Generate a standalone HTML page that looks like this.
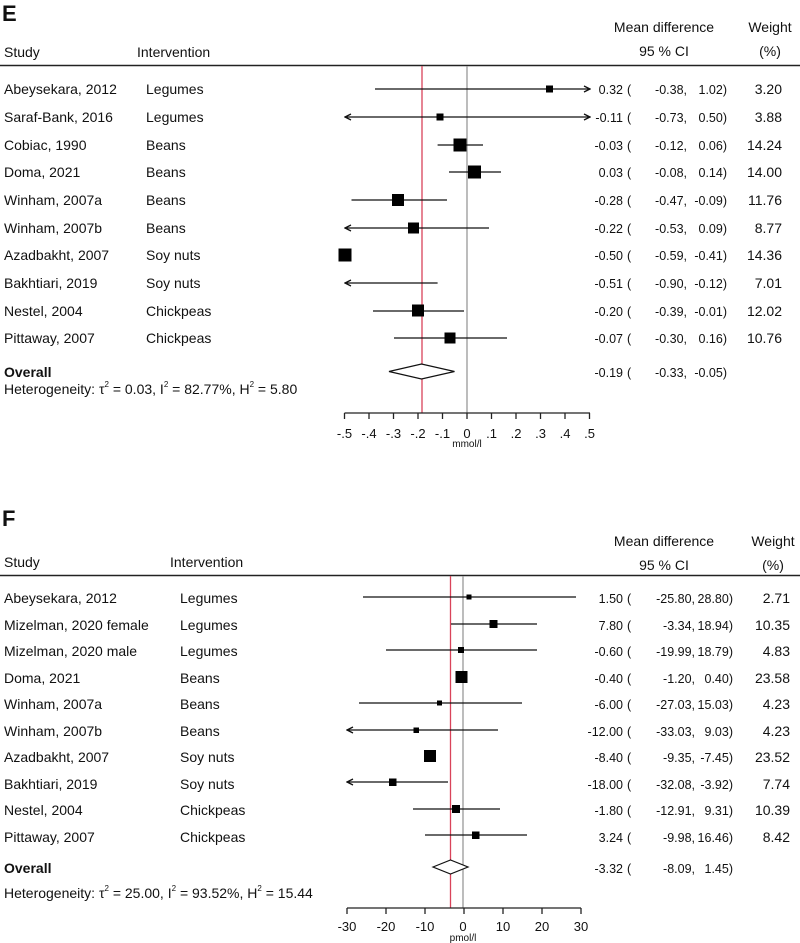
<!DOCTYPE html>
<html><head><meta charset="utf-8"><style>
body{margin:0;background:#fff}
svg{display:block;font-family:"Liberation Sans",sans-serif;font-size:14px;fill:#111}
.b{font-weight:bold}
.ax{font-size:13px}
.u{font-size:10px}
.n{font-size:12.5px}
</style></head><body>
<svg width="800" height="943" viewBox="0 0 800 943" xmlns="http://www.w3.org/2000/svg">
<defs><marker id="ar" markerWidth="8" markerHeight="8" refX="7" refY="4" orient="auto-start-reverse" markerUnits="userSpaceOnUse"><path d="M1,1 L7,4 L1,7" fill="none" stroke="#111" stroke-width="1.3"/></marker></defs>
<!-- PANEL E -->
<text x="2" y="21" class="b" style="font-size:22px">E</text>
<text x="664" y="32" text-anchor="middle">Mean difference</text>
<text x="664" y="56" text-anchor="middle">95 % CI</text>
<text x="770" y="32" text-anchor="middle">Weight</text>
<text x="770" y="56" text-anchor="middle">(%)</text>
<text x="4" y="57">Study</text><text x="137" y="57">Intervention</text>
<line x1="0" y1="65.5" x2="800" y2="65.5" stroke="#222" stroke-width="1.5"/>
<line x1="467" y1="66" x2="467" y2="413" stroke="#999" stroke-width="1.3"/>
<line x1="422" y1="66" x2="422" y2="413" stroke="#d9435a" stroke-width="1.3"/>
<g>
<text x="4" y="94">Abeysekara, 2012</text><text x="146" y="94">Legumes</text>
<text x="4" y="122">Saraf-Bank, 2016</text><text x="146" y="122">Legumes</text>
<text x="4" y="150">Cobiac, 1990</text><text x="146" y="150">Beans</text>
<text x="4" y="177">Doma, 2021</text><text x="146" y="177">Beans</text>
<text x="4" y="205">Winham, 2007a</text><text x="146" y="205">Beans</text>
<text x="4" y="233">Winham, 2007b</text><text x="146" y="233">Beans</text>
<text x="4" y="260">Azadbakht, 2007</text><text x="146" y="260">Soy nuts</text>
<text x="4" y="288">Bakhtiari, 2019</text><text x="146" y="288">Soy nuts</text>
<text x="4" y="316">Nestel, 2004</text><text x="146" y="316">Chickpeas</text>
<text x="4" y="343">Pittaway, 2007</text><text x="146" y="343">Chickpeas</text>
<text x="4" y="377" class="b">Overall</text>
<text x="4" y="394">Heterogeneity: τ<tspan dy="-7" style="font-size:8px">2</tspan><tspan dy="7"> = 0.03, I</tspan><tspan dy="-7" style="font-size:8px">2</tspan><tspan dy="7"> = 82.77%, H</tspan><tspan dy="-7" style="font-size:8px">2</tspan><tspan dy="7"> = 5.80</tspan></text>
</g>
<g text-anchor="end" class="n">
<text x="623" y="94">0.32</text><text x="623" y="122">-0.11</text><text x="623" y="150">-0.03</text><text x="623" y="177">0.03</text><text x="623" y="205">-0.28</text><text x="623" y="233">-0.22</text><text x="623" y="260">-0.50</text><text x="623" y="288">-0.51</text><text x="623" y="316">-0.20</text><text x="623" y="343">-0.07</text><text x="623" y="377">-0.19</text>
<text x="687" y="94">-0.38,</text><text x="687" y="122">-0.73,</text><text x="687" y="150">-0.12,</text><text x="687" y="177">-0.08,</text><text x="687" y="205">-0.47,</text><text x="687" y="233">-0.53,</text><text x="687" y="260">-0.59,</text><text x="687" y="288">-0.90,</text><text x="687" y="316">-0.39,</text><text x="687" y="343">-0.30,</text><text x="687" y="377">-0.33,</text>
<text x="727" y="94">1.02)</text><text x="727" y="122">0.50)</text><text x="727" y="150">0.06)</text><text x="727" y="177">0.14)</text><text x="727" y="205">-0.09)</text><text x="727" y="233">0.09)</text><text x="727" y="260">-0.41)</text><text x="727" y="288">-0.12)</text><text x="727" y="316">-0.01)</text><text x="727" y="343">0.16)</text><text x="727" y="377">-0.05)</text>
</g>
<g text-anchor="end">
<text x="782" y="94">3.20</text><text x="782" y="122">3.88</text><text x="782" y="150">14.24</text><text x="782" y="177">14.00</text><text x="782" y="205">11.76</text><text x="782" y="233">8.77</text><text x="782" y="260">14.36</text><text x="782" y="288">7.01</text><text x="782" y="316">12.02</text><text x="782" y="343">10.76</text>
</g>
<g class="n">
<text x="627" y="94">(</text><text x="627" y="122">(</text><text x="627" y="150">(</text><text x="627" y="177">(</text><text x="627" y="205">(</text><text x="627" y="233">(</text><text x="627" y="260">(</text><text x="627" y="288">(</text><text x="627" y="316">(</text><text x="627" y="343">(</text><text x="627" y="377">(</text>
</g>
<g stroke="#111" stroke-width="1.3">
<line x1="375" y1="89" x2="590" y2="89" marker-end="url(#ar)"/>
<line x1="345" y1="117" x2="590" y2="117" marker-end="url(#ar)" marker-start="url(#ar)"/>
<line x1="437.6" y1="145" x2="483" y2="145"/>
<line x1="449" y1="172" x2="501" y2="172"/>
<line x1="351.5" y1="200" x2="447" y2="200"/>
<line x1="345" y1="228" x2="489" y2="228" marker-start="url(#ar)"/>
<line x1="345" y1="283" x2="437.6" y2="283" marker-start="url(#ar)"/>
<line x1="373" y1="311" x2="464" y2="311"/>
<line x1="394" y1="338" x2="507" y2="338"/>
</g>
<g fill="#000">
<rect x="546" y="85.5" width="7" height="7"/>
<rect x="436.5" y="113.5" width="7" height="7"/>
<rect x="453.5" y="138.5" width="13" height="13"/>
<rect x="468" y="165.5" width="13" height="13"/>
<rect x="392" y="194" width="12" height="12"/>
<rect x="408" y="222.5" width="11" height="11"/>
<rect x="338.5" y="248.5" width="13" height="13"/>
<rect x="412" y="304.5" width="12" height="12"/>
<rect x="444.5" y="332.5" width="11" height="11"/>
</g>
<polygon points="389,371.5 421.5,364 454.5,371.5 421.5,379" fill="#fff" stroke="#111" stroke-width="1.2"/>
<g stroke="#222" stroke-width="1.3">
<line x1="344.5" y1="413" x2="590" y2="413"/>
<line x1="344.5" y1="413" x2="344.5" y2="419"/><line x1="369" y1="413" x2="369" y2="419"/><line x1="393.5" y1="413" x2="393.5" y2="419"/><line x1="418" y1="413" x2="418" y2="419"/><line x1="442.5" y1="413" x2="442.5" y2="419"/><line x1="467" y1="413" x2="467" y2="419"/><line x1="491.5" y1="413" x2="491.5" y2="419"/><line x1="516" y1="413" x2="516" y2="419"/><line x1="540.5" y1="413" x2="540.5" y2="419"/><line x1="565" y1="413" x2="565" y2="419"/><line x1="589.5" y1="413" x2="589.5" y2="419"/>
</g>
<g class="ax" text-anchor="middle">
<text x="344.5" y="438">-.5</text><text x="369" y="438">-.4</text><text x="393.5" y="438">-.3</text><text x="418" y="438">-.2</text><text x="442.5" y="438">-.1</text><text x="467" y="438">0</text><text x="491.5" y="438">.1</text><text x="516" y="438">.2</text><text x="540.5" y="438">.3</text><text x="565" y="438">.4</text><text x="589.5" y="438">.5</text>
<text x="467" y="447" class="u">mmol/l</text>
</g>

<!-- PANEL F -->
<text x="2" y="526" class="b" style="font-size:22px">F</text>
<text x="664" y="546" text-anchor="middle">Mean difference</text>
<text x="664" y="570" text-anchor="middle">95 % CI</text>
<text x="773" y="546" text-anchor="middle">Weight</text>
<text x="773" y="570" text-anchor="middle">(%)</text>
<text x="4" y="567">Study</text><text x="170" y="567">Intervention</text>
<line x1="0" y1="575.5" x2="800" y2="575.5" stroke="#222" stroke-width="1.5"/>
<line x1="463" y1="576" x2="463" y2="908" stroke="#999" stroke-width="1.3"/>
<line x1="450.5" y1="576" x2="450.5" y2="908" stroke="#d9435a" stroke-width="1.3"/>
<g>
<text x="4" y="603">Abeysekara, 2012</text><text x="180" y="603">Legumes</text>
<text x="4" y="630">Mizelman, 2020 female</text><text x="180" y="630">Legumes</text>
<text x="4" y="656">Mizelman, 2020 male</text><text x="180" y="656">Legumes</text>
<text x="4" y="683">Doma, 2021</text><text x="180" y="683">Beans</text>
<text x="4" y="709">Winham, 2007a</text><text x="180" y="709">Beans</text>
<text x="4" y="736">Winham, 2007b</text><text x="180" y="736">Beans</text>
<text x="4" y="762">Azadbakht, 2007</text><text x="180" y="762">Soy nuts</text>
<text x="4" y="789">Bakhtiari, 2019</text><text x="180" y="789">Soy nuts</text>
<text x="4" y="815">Nestel, 2004</text><text x="180" y="815">Chickpeas</text>
<text x="4" y="842">Pittaway, 2007</text><text x="180" y="842">Chickpeas</text>
<text x="4" y="873" class="b">Overall</text>
<text x="4" y="898">Heterogeneity: τ<tspan dy="-7" style="font-size:8px">2</tspan><tspan dy="7"> = 25.00, I</tspan><tspan dy="-7" style="font-size:8px">2</tspan><tspan dy="7"> = 93.52%, H</tspan><tspan dy="-7" style="font-size:8px">2</tspan><tspan dy="7"> = 15.44</tspan></text>
</g>
<g text-anchor="end" class="n">
<text x="623" y="603">1.50</text><text x="623" y="630">7.80</text><text x="623" y="656">-0.60</text><text x="623" y="683">-0.40</text><text x="623" y="709">-6.00</text><text x="623" y="736">-12.00</text><text x="623" y="762">-8.40</text><text x="623" y="789">-18.00</text><text x="623" y="815">-1.80</text><text x="623" y="842">3.24</text><text x="623" y="873">-3.32</text>
<text x="695" y="603">-25.80,</text><text x="695" y="630">-3.34,</text><text x="695" y="656">-19.99,</text><text x="695" y="683">-1.20,</text><text x="695" y="709">-27.03,</text><text x="695" y="736">-33.03,</text><text x="695" y="762">-9.35,</text><text x="695" y="789">-32.08,</text><text x="695" y="815">-12.91,</text><text x="695" y="842">-9.98,</text><text x="695" y="873">-8.09,</text>
<text x="733" y="603">28.80)</text><text x="733" y="630">18.94)</text><text x="733" y="656">18.79)</text><text x="733" y="683">0.40)</text><text x="733" y="709">15.03)</text><text x="733" y="736">9.03)</text><text x="733" y="762">-7.45)</text><text x="733" y="789">-3.92)</text><text x="733" y="815">9.31)</text><text x="733" y="842">16.46)</text><text x="733" y="873">1.45)</text>
</g>
<g text-anchor="end">
<text x="790" y="603">2.71</text><text x="790" y="630">10.35</text><text x="790" y="656">4.83</text><text x="790" y="683">23.58</text><text x="790" y="709">4.23</text><text x="790" y="736">4.23</text><text x="790" y="762">23.52</text><text x="790" y="789">7.74</text><text x="790" y="815">10.39</text><text x="790" y="842">8.42</text>
</g>
<g class="n">
<text x="627" y="603">(</text><text x="627" y="630">(</text><text x="627" y="656">(</text><text x="627" y="683">(</text><text x="627" y="709">(</text><text x="627" y="736">(</text><text x="627" y="762">(</text><text x="627" y="789">(</text><text x="627" y="815">(</text><text x="627" y="842">(</text><text x="627" y="873">(</text>
</g>
<g stroke="#111" stroke-width="1.3">
<line x1="363" y1="597" x2="576" y2="597"/>
<line x1="451" y1="624" x2="537" y2="624"/>
<line x1="386" y1="650" x2="537" y2="650"/>
<line x1="359" y1="703" x2="522" y2="703"/>
<line x1="347" y1="730" x2="498" y2="730" marker-start="url(#ar)"/>
<line x1="347" y1="782" x2="448" y2="782" marker-start="url(#ar)"/>
<line x1="413" y1="809" x2="500" y2="809"/>
<line x1="425" y1="835" x2="527" y2="835"/>
</g>
<g fill="#000">
<rect x="466.5" y="594.5" width="5" height="5"/>
<rect x="489.5" y="620" width="8" height="8"/>
<rect x="458" y="647" width="6" height="6"/>
<rect x="455.5" y="671" width="12" height="12"/>
<rect x="437" y="700.5" width="5" height="5"/>
<rect x="413.5" y="727.5" width="5.5" height="5.5"/>
<rect x="424" y="750" width="12" height="12"/>
<rect x="389" y="778.5" width="7.5" height="7.5"/>
<rect x="452" y="805" width="8" height="8"/>
<rect x="472" y="831.5" width="7.5" height="7.5"/>
</g>
<polygon points="433,867 450.5,860 468,867 450.5,874" fill="#fff" stroke="#111" stroke-width="1.2"/>
<g stroke="#222" stroke-width="1.3">
<line x1="347" y1="908" x2="581" y2="908"/>
<line x1="347" y1="908" x2="347" y2="914"/><line x1="386" y1="908" x2="386" y2="914"/><line x1="425" y1="908" x2="425" y2="914"/><line x1="464" y1="908" x2="464" y2="914"/><line x1="503" y1="908" x2="503" y2="914"/><line x1="542" y1="908" x2="542" y2="914"/><line x1="581" y1="908" x2="581" y2="914"/>
</g>
<g class="ax" text-anchor="middle">
<text x="347" y="931">-30</text><text x="386" y="931">-20</text><text x="425" y="931">-10</text><text x="463" y="931">0</text><text x="503" y="931">10</text><text x="542" y="931">20</text><text x="581" y="931">30</text>
<text x="463" y="941" class="u">pmol/l</text>
</g>
</svg>
</body></html>
